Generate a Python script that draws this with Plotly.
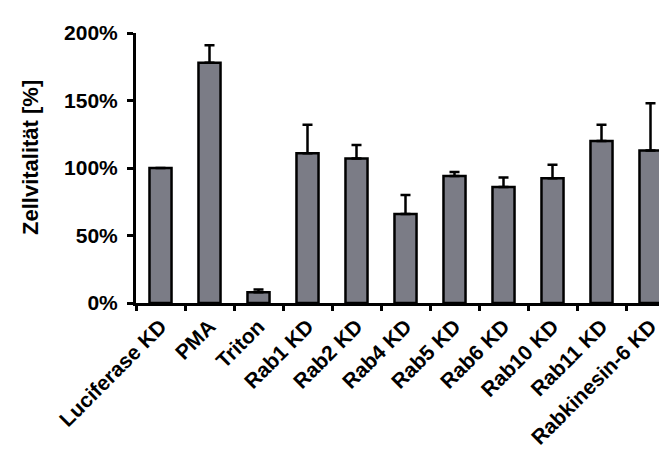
import plotly.graph_objects as go

categories = ["Luciferase KD", "PMA", "Triton", "Rab1 KD", "Rab2 KD", "Rab4 KD",
              "Rab5 KD", "Rab6 KD", "Rab10 KD", "Rab11 KD", "Rabkinesin-6 KD"]
viability = [100, 178, 8, 111, 107, 66, 94, 86, 92.5, 120, 113]
error_up = [0, 13, 2, 21, 10, 14, 3, 7, 10, 12, 35]
y_ticks = [0, 50, 100, 150, 200]
y_ticklabels = ["0%", "50%", "100%", "150%", "200%"]

W, H = 667, 453
L, R, T, B = 128, 0, 25, 158

fig = go.Figure()
fig.add_trace(go.Bar(
    x=categories, y=viability, width=0.45,
    marker=dict(color="#7b7c86", line=dict(color="black", width=2.5)),
    error_y=dict(type="data", array=error_up, arrayminus=[0] * len(error_up),
                 symmetric=False, color="black", thickness=2.5, width=5, visible=True),
))

fig.update_layout(
    width=W, height=H,
    margin=dict(l=L, r=R, t=T, b=B, autoexpand=False),
    plot_bgcolor="white", paper_bgcolor="white",
    showlegend=False,
    font=dict(family="Liberation Sans, Arial", color="black"),
    xaxis=dict(
        type="category", range=[-0.5, len(categories) - 0.5],
        showline=True, linecolor="black", linewidth=3,
        ticks="outside", tickson="boundaries", ticklen=5, tickwidth=2.5, tickcolor="black",
        tickangle=-45, tickfont=dict(size=21, weight="bold"),
        showgrid=False, zeroline=False, automargin=False,
    ),
    yaxis=dict(
        range=[0, 200], tickvals=y_ticks, ticktext=y_ticklabels,
        showline=True, linecolor="black", linewidth=3,
        ticks="outside", ticklen=6, tickwidth=2.5, tickcolor="black",
        tickfont=dict(size=21, weight="bold"), ticklabelstandoff=5,
        showgrid=False, zeroline=False, automargin=False,
    ),
    annotations=[dict(
        text="Zellvitalität [%]", textangle=-90,
        xref="paper", yref="paper",
        x=-(L - 22) / (W - L - R), y=(295 - 150) / (H - T - B),
        xanchor="center", yanchor="middle", showarrow=False,
        font=dict(size=22, weight="bold", color="black"),
    )],
)

fig.write_html("out.html")
